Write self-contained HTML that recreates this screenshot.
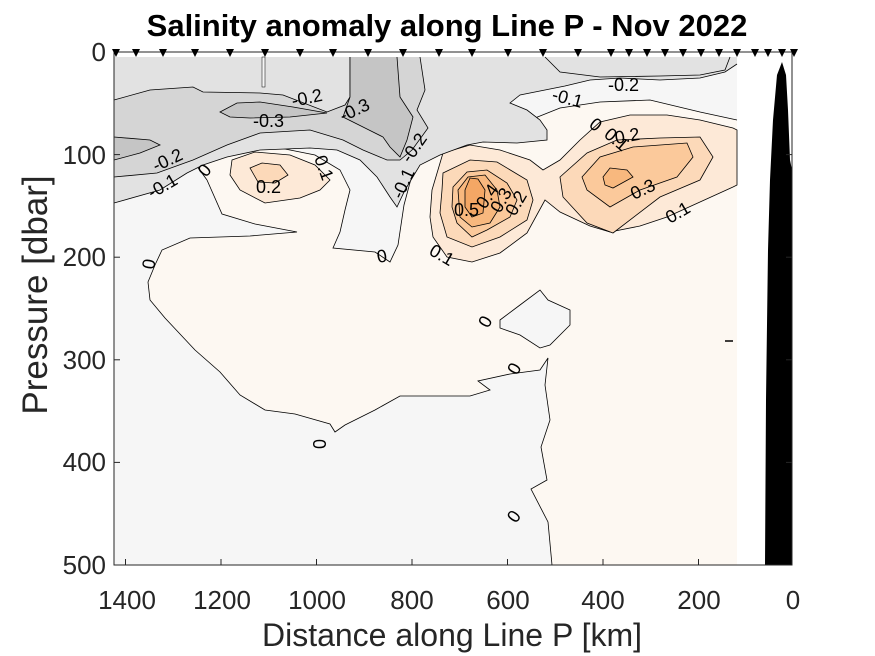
<!DOCTYPE html>
<html><head><meta charset="utf-8"><style>
body{margin:0;background:#fff;}
svg{display:block;font-family:"Liberation Sans",sans-serif;}
</style></head><body>
<svg width="875" height="656" viewBox="0 0 875 656" xmlns="http://www.w3.org/2000/svg">
<rect width="875" height="656" fill="#fff"/>
<rect x="114" y="57" width="623" height="508" fill="#f6f6f6"/>
<path d="M207,180 L222,214 L255,224 L297,232 L250,236 L190,238 L162,250 L155,265 L148,282 L150,300 L165,318 L195,350 L220,372 L240,395 L265,410 L295,414 L330,424 L335,432 L345,425 L375,410 L400,396 L470,396 L490,390 L478,381 L510,374 L540,370 L548,358 L545,385 L550,420 L541,447 L547,480 L531,489 L548,522 L552,565 L737,565 L737,120 L700,112 L650,100 L600,102 L560,108 L520,124 L470,140 L430,152 L412,175 L404,205 L398,245 L390,262 L375,252 L333,248 L340,232 L345,210 L350,190 L340,170 L315,155 L280,148 L240,146 L205,150 L196,165 Z" fill="#fdf8f2"/>
<polyline points="207,180 222,214 255,224 297,232 250,236 190,238 162,250 155,265 148,282 150,300 165,318 195,350 220,372 240,395 265,410 295,414 330,424 335,432 345,425 375,410 400,396 470,396 490,390 478,381 510,374 540,370 548,358 545,385 550,420 541,447 547,480 531,489 548,522 552,565" fill="none" stroke="#000" stroke-width="0.8"/>
<polyline points="737,120 700,112 650,100 600,102 560,108 520,124 470,140 430,152 412,175 404,205 398,245 390,262 375,252 333,248 340,232 345,210 350,190 340,170 315,155 280,148 240,146 205,150 196,165 207,180" fill="none" stroke="#000" stroke-width="0.8"/>
<path d="M500,320 L520,305 L540,290 L548,300 L570,310 L570,325 L550,345 L540,348 L520,335 L500,328 Z" fill="#f6f6f6" stroke="#000" stroke-width="0.8"/>
<path d="M432,190 L443,153 L470,145 L500,150 L530,160 L543,170 L560,160 L580,140 L600,122 L630,115 L667,115 L700,120 L733,128 L737,130 L737,185 L733,187 L700,202 L667,217 L640,226 L610,232 L590,226 L560,212 L545,200 L527,233 L500,253 L472,262 L447,257 L433,237 L430,217 Z" fill="#fde9d7" stroke="#000" stroke-width="0.8"/>
<path d="M443,173 L470,160 L497,162 L527,180 L533,200 L527,220 L500,237 L472,247 L447,237 L440,213 L442,190 Z" fill="#fcd9b9" stroke="#000" stroke-width="0.8"/>
<path d="M560,177 L587,153 L617,140 L660,138 L700,137 L713,157 L700,180 L660,197 L613,233 L587,223 L563,197 Z" fill="#fcd9b9" stroke="#000" stroke-width="0.8"/>
<path d="M582,177 L600,157 L633,147 L687,143 L693,157 L677,177 L640,190 L610,207 L587,190 Z" fill="#fbc99b" stroke="#000" stroke-width="0.8"/>
<path d="M453,187 L467,172 L487,170 L507,183 L517,200 L510,217 L487,230 L472,237 L457,223 L452,207 Z" fill="#fbc99b" stroke="#000" stroke-width="0.8"/>
<path d="M603,177 L610,168 L627,170 L633,177 L613,188 L605,185 Z" fill="#f8b87e" stroke="#000" stroke-width="0.8"/>
<path d="M458,190 L468,177 L485,175 L497,190 L500,207 L490,223 L472,227 L460,217 Z" fill="#f8b87e" stroke="#000" stroke-width="0.8"/>
<path d="M465,190 L470,178 L478,179 L485,190 L483,213 L472,217 L465,207 Z" fill="#f4a765" stroke="#000" stroke-width="0.8"/>
<path d="M232,160 L255,152 L290,155 L315,165 L330,180 L320,190 L300,198 L265,203 L240,190 L230,175 Z" fill="#fde9d7" stroke="#000" stroke-width="0.8"/>
<path d="M250,168 L262,163 L280,165 L288,175 L275,183 L258,182 Z" fill="#fcd9b9" stroke="#000" stroke-width="0.8"/>
<path d="M114,57 L737,57 L737,64 L725,72 L700,78 L660,80 L620,78 L590,80 L565,86 L545,90 L520,95 L510,103 L527,110 L540,120 L547,130 L547,140 L517,143 L483,142 L467,145 L440,155 L420,165 L405,190 L397,207 L390,197 L377,177 L360,160 L337,150 L310,148 L260,150 L227,157 L203,165 L187,173 L160,190 L114,203 Z" fill="#e2e2e2"/>
<polyline points="737,64 725,72 700,78 660,80 620,78 590,80 565,86 545,90 520,95 510,103 527,110 540,120 547,130 547,140 517,143 483,142 467,145 440,155 420,165 405,190 397,207 390,197 377,177 360,160 337,150 310,148 260,150 227,157 203,165 187,173 160,190 114,203" fill="none" stroke="#000" stroke-width="0.8"/>
<polyline points="545,57 560,72 600,77 660,76 700,75 725,70 730,57" fill="none" stroke="#000" stroke-width="0.8"/>
<path d="M114,100 L150,90 L193,87 L203,92 L260,93 L283,95 L327,112 L345,105 L350,97 L350,57 L420,57 L425,90 L417,110 L428,128 L412,150 L400,160 L387,160 L363,150 L343,140 L310,130 L260,133 L227,145 L193,160 L157,173 L114,177 Z" fill="#d5d5d5"/>
<polyline points="114,100 150,90 193,87 203,92 260,93 283,95 327,112 345,105 350,97 350,57" fill="none" stroke="#000" stroke-width="0.8"/>
<polyline points="420,57 425,90 417,110 428,128 412,150 400,160 387,160 363,150 343,140 310,130 260,133 227,145 193,160 157,173 114,177" fill="none" stroke="#000" stroke-width="0.8"/>
<path d="M220,112 L237,103 L260,102 L293,107 L327,113 L290,117 L250,118 L230,117 Z" fill="#c5c5c5" stroke="#000" stroke-width="0.8"/>
<path d="M350,57 L397,57 L400,97 L413,117 L407,140 L400,157 L390,147 L383,137 L363,127 L343,117 L350,97 Z" fill="#c5c5c5"/>
<polyline points="350,57 350,97 343,117 363,127 383,137 390,147 400,157 407,140 413,117 400,97 397,57" fill="none" stroke="#000" stroke-width="0.8"/>
<path d="M114,137 L150,140 L160,145 L140,153 L114,160 Z" fill="#c5c5c5"/>
<polyline points="114,137 150,140 160,145 140,153 114,160" fill="none" stroke="#000" stroke-width="0.8"/>
<rect x="262" y="57" width="3" height="30" fill="#f6f6f6" stroke="#000" stroke-width="0.5"/>
<path d="M765,565 L766,400 L768,250 L770,180 L773,120 L777,75 L782,62 L786,75 L788,110 L790,160 L792,170 L792,565 Z" fill="#000"/>
<line x1="725" y1="341" x2="733" y2="341" stroke="#000" stroke-width="1.5"/>
<g font-size="18" fill="#000">
<text x="293" y="107" transform="rotate(-12 293 107)">-0.2</text>
<text x="253" y="127">-0.3</text>
<text x="343" y="122" transform="rotate(-25 343 122)">-0.3</text>
<text x="156" y="172" transform="rotate(-25 156 172)">-0.2</text>
<text x="152" y="199" transform="rotate(-30 152 199)">-0.1</text>
<text x="206" y="178" transform="rotate(-50 206 178)">0</text>
<text x="256" y="193">0.2</text>
<text x="314" y="158" transform="rotate(70 314 158)">0.1</text>
<text x="402" y="200" transform="rotate(-65 402 200)">-0.1</text>
<text x="410" y="164" transform="rotate(-55 410 164)">-0.2</text>
<text x="551" y="100" transform="rotate(15 551 100)">-0.1</text>
<text x="608" y="91">-0.2</text>
<text x="588" y="126" transform="rotate(40 588 126)">0</text>
<text x="603" y="136" transform="rotate(40 603 136)">0.1</text>
<text x="616" y="144" transform="rotate(-10 616 144)">0.2</text>
<text x="634" y="200" transform="rotate(-25 634 200)">0.3</text>
<text x="670" y="224" transform="rotate(-30 670 224)">0.1</text>
<text x="454" y="216">0.5</text>
<text x="485" y="210" transform="rotate(-55 485 210)">0.4</text>
<text x="500" y="214" transform="rotate(-60 500 214)">0.3</text>
<text x="515" y="217" transform="rotate(-60 515 217)">0.2</text>
<text x="428" y="254" transform="rotate(30 428 254)">0.1</text>
<text x="378" y="263" transform="rotate(-10 378 263)">0</text>
<text x="154" y="270" transform="rotate(-80 154 270)">0</text>
<text x="488" y="329" transform="rotate(-60 488 329)">0</text>
<text x="517" y="376" transform="rotate(-60 517 376)">0</text>
<text x="326" y="449" transform="rotate(-90 326 449)">0</text>
<text x="516" y="524" transform="rotate(-55 516 524)">0</text>
</g>
<rect x="114" y="52" width="678" height="513" fill="none" stroke="#262626" stroke-width="1"/>
<g stroke="#262626" stroke-width="1">
<line x1="125.5" y1="565" x2="125.5" y2="559"/><line x1="221" y1="565" x2="221" y2="559"/><line x1="316.5" y1="565" x2="316.5" y2="559"/><line x1="412" y1="565" x2="412" y2="559"/><line x1="507.5" y1="565" x2="507.5" y2="559"/><line x1="603" y1="565" x2="603" y2="559"/><line x1="698.5" y1="565" x2="698.5" y2="559"/>
<line x1="114" y1="154.6" x2="120" y2="154.6"/><line x1="114" y1="257.2" x2="120" y2="257.2"/><line x1="114" y1="359.8" x2="120" y2="359.8"/><line x1="114" y1="462.4" x2="120" y2="462.4"/>
<line x1="792" y1="154.6" x2="786" y2="154.6"/><line x1="792" y1="257.2" x2="786" y2="257.2"/><line x1="792" y1="359.8" x2="786" y2="359.8"/><line x1="792" y1="462.4" x2="786" y2="462.4"/>
</g>
<g fill="#000">
<path d="M112,49 h8 l-4,8z M132,49 h8 l-4,8z M159,49 h8 l-4,8z M191,49 h8 l-4,8z M226,49 h8 l-4,8z M261,49 h8 l-4,8z M296,49 h8 l-4,8z M329,49 h8 l-4,8z M364,49 h8 l-4,8z M399,49 h8 l-4,8z M435,49 h8 l-4,8z M468,49 h8 l-4,8z M504,49 h8 l-4,8z M539,49 h8 l-4,8z M574,49 h8 l-4,8z M607,49 h8 l-4,8z M625,49 h8 l-4,8z M643,49 h8 l-4,8z M661,49 h8 l-4,8z M679,49 h8 l-4,8z M697,49 h8 l-4,8z M715,49 h8 l-4,8z M733,49 h8 l-4,8z M751,49 h8 l-4,8z M764,49 h8 l-4,8z M778,49 h8 l-4,8z M790,49 h8 l-4,8z"/>
</g>
<g font-size="26" fill="#262626" text-anchor="middle">
<text x="127" y="609">1400</text><text x="222" y="609">1200</text><text x="317" y="609">1000</text><text x="412" y="609">800</text><text x="508" y="609">600</text><text x="603" y="609">400</text><text x="699" y="609">200</text><text x="793" y="609">0</text>
</g>
<g font-size="26" fill="#262626" text-anchor="end">
<text x="106" y="61">0</text><text x="106" y="164">100</text><text x="106" y="266">200</text><text x="106" y="369">300</text><text x="106" y="471">400</text><text x="106" y="574">500</text>
</g>
<text x="452" y="646" font-size="32" fill="#262626" text-anchor="middle">Distance along Line P [km]</text>
<text x="0" y="0" font-size="35" fill="#262626" text-anchor="middle" transform="translate(47 295) rotate(-90)">Pressure [dbar]</text>
<text x="447" y="36" font-size="31" font-weight="bold" fill="#000" text-anchor="middle">Salinity anomaly along Line P - Nov 2022</text>
</svg>
</body></html>
